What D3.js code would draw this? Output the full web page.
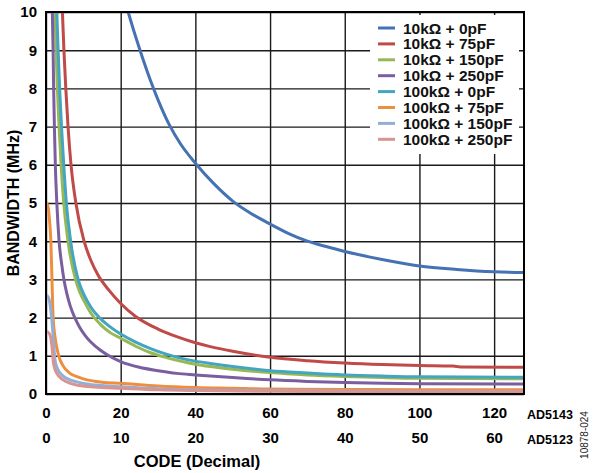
<!DOCTYPE html>
<html>
<head>
<meta charset="utf-8">
<script src="https://cdn.jsdelivr.net/npm/d3@7"></script>
<style>
  html, body { margin: 0; padding: 0; background: #fff; }
  svg { display: block; }
  text { font-family: Arial, "Liberation Sans", sans-serif; }
</style>
</head>
<body>
<svg id="chart" width="597" height="473"></svg>
<script>
// ---- data (code, bandwidth MHz) ----
const seriesNames = ["10k\u03A9 + 0pF", "10k\u03A9 + 75pF", "10k\u03A9 + 150pF", "10k\u03A9 + 250pF",
                     "100k\u03A9 + 0pF", "100k\u03A9 + 75pF", "100k\u03A9 + 150pF", "100k\u03A9 + 250pF"];
const seriesColors = ["#4472b3", "#bf4a47", "#97b853", "#7a5e9f", "#43a5bf", "#ef8f3d", "#92afd7", "#d99492"];

const bw10k0pF = [[20,10.7],[22,10],[25,9.05],[28,8.2],[30,7.7],[33,7.05],[36,6.55],[40,6.04],[45,5.5],[50,5.05],[55,4.72],[60,4.45],[65,4.2],[70,4.0],[75,3.86],[80,3.73],[90,3.52],[100,3.35],[110,3.26],[120,3.2],[128,3.18]];
const bw10k75pF = [[4.1,10.8],[4.4,10],[4.8,9],[5.3,8],[5.9,7],[6.7,6],[8.0,5],[10.2,4],[12,3.5],[14,3.1],[17,2.7],[20,2.37],[24,2.03],[30,1.7],[35,1.5],[40,1.34],[44,1.24],[50,1.12],[60,0.96],[70,0.87],[80,0.81],[90,0.77],[100,0.745],[109,0.73],[111,0.71],[128,0.7]];
const bw10k150pF = [[2.2,10.8],[2.4,10],[2.7,9],[3.05,8],[3.5,7],[4.05,6],[4.75,5],[5.9,4],[7.9,3],[9,2.68],[10.5,2.38],[12,2.12],[14.5,1.83],[17,1.62],[20,1.46],[24,1.25],[28,1.08],[32,0.96],[36,0.86],[40,0.78],[44,0.72],[50,0.65],[60,0.56],[70,0.5],[80,0.46],[90,0.43],[100,0.41],[128,0.4]];
const bw10k250pF = [[1.6,10.8],[1.7,10],[1.9,9],[2.05,8],[2.25,7],[2.5,6],[2.9,5],[3.2,4.45],[3.5,4],[4.2,3.4],[4.8,3.0],[5.6,2.62],[6.5,2.3],[7.8,1.98],[9,1.75],[10.5,1.53],[12,1.36],[14.5,1.15],[16.5,1.02],[20,0.85],[25,0.7],[30,0.61],[35,0.54],[40,0.5],[44,0.47],[50,0.43],[60,0.37],[70,0.33],[80,0.3],[90,0.28],[100,0.27],[128,0.26]];
const bw100k0pF = [[2.7,10.8],[2.9,10],[3.25,9],[3.65,8],[4.15,7],[4.75,6],[5.45,5],[6.6,4],[8.6,3],[9.7,2.7],[11,2.44],[12.5,2.2],[14.5,1.98],[17,1.77],[20,1.57],[24,1.36],[28,1.19],[32,1.05],[36,0.94],[40,0.86],[44,0.8],[50,0.72],[60,0.61],[70,0.55],[80,0.5],[90,0.47],[100,0.45],[128,0.44]];
const bw100k75pF = [[0,5.0],[0.4,4.95],[0.9,4.6],[1.3,4.0],[1.6,3.0],[1.9,2.0],[2.4,1.5],[3.4,1.0],[4.5,0.75],[6.4,0.54],[8.5,0.45],[11,0.37],[15,0.31],[20,0.28],[30,0.21],[40,0.17],[50,0.15],[60,0.13],[80,0.12],[100,0.11],[128,0.11]];
const bw100k150pF = [[0,2.6],[0.5,2.55],[0.9,2.45],[1.5,2.0],[2.0,1.4],[2.4,0.9],[3,0.68],[3.7,0.56],[5,0.44],[6.4,0.37],[8.5,0.31],[10.9,0.26],[15,0.22],[20,0.19],[30,0.14],[40,0.11],[60,0.09],[80,0.08],[100,0.07],[128,0.07]];
const bw100k250pF = [[0,1.63],[0.5,1.62],[1.1,1.54],[1.7,1.15],[2.0,0.8],[2.9,0.54],[4.6,0.37],[6.5,0.28],[9,0.22],[13,0.18],[20,0.15],[30,0.11],[40,0.09],[60,0.07],[80,0.06],[100,0.06],[128,0.06]];
const seriesData = [bw10k0pF, bw10k75pF, bw10k150pF, bw10k250pF, bw100k0pF, bw100k75pF, bw100k150pF, bw100k250pF];

const xTicksAD5143 = [0, 20, 40, 60, 80, 100, 120];
const xTicksAD5123 = [0, 10, 20, 30, 40, 50, 60];
const yTicks = [0, 1, 2, 3, 4, 5, 6, 7, 8, 9, 10];
const xTitle = "CODE (Decimal)";
const yTitle = "BANDWIDTH (MHz)";
const partLabels = ["AD5143", "AD5123"];
const figId = "10878-024";

// ---- layout ----
const L = 46, R = 524, T = 12, B = 394;
const svg = d3.select("#chart");
const x = d3.scaleLinear().domain([0, 128]).range([L, R]);
const x2 = d3.scaleLinear().domain([0, 64]).range([L, R]);
const y = d3.scaleLinear().domain([0, 10]).range([B, T]);
const FONT = "Arial, 'Liberation Sans', sans-serif";

// gridlines
svg.append("g").attr("transform", `translate(0,${B})`)
  .call(d3.axisBottom(x).tickValues(xTicksAD5143).tickSize(-(B - T)).tickFormat(""))
  .call(g => g.select(".domain").remove())
  .call(g => g.selectAll("line").attr("stroke", "#1a1a1a").attr("stroke-width", 1.4));
svg.append("g").attr("transform", `translate(${L},0)`)
  .call(d3.axisLeft(y).tickValues(yTicks).tickSize(-(R - L)).tickFormat(""))
  .call(g => g.select(".domain").remove())
  .call(g => g.selectAll("line").attr("stroke", "#1a1a1a").attr("stroke-width", 1.4));

// legend background box (hides grid)
svg.append("rect").attr("x", 370).attr("y", 15).attr("width", 149).attr("height", 139).attr("fill", "#fff");

// curves
svg.append("clipPath").attr("id", "plotclip")
  .append("rect").attr("x", L).attr("y", T).attr("width", R - L).attr("height", B - T);
const line = d3.line().x(d => x(d[0])).y(d => y(d[1])).curve(d3.curveMonotoneX);
const gCurves = svg.append("g").attr("clip-path", "url(#plotclip)");
seriesData.forEach((d, i) => {
  gCurves.append("path").attr("d", line(d)).attr("fill", "none")
    .attr("stroke", seriesColors[i]).attr("stroke-width", 3)
    .attr("stroke-linejoin", "round").attr("stroke-linecap", "butt");
});

// frame
svg.append("rect").attr("x", L).attr("y", T).attr("width", R - L).attr("height", B - T)
  .attr("fill", "none").attr("stroke", "#000").attr("stroke-width", 2);

// y tick labels
svg.append("g").attr("transform", `translate(${L},0)`)
  .call(d3.axisLeft(y).tickValues(yTicks).tickSize(0).tickPadding(9))
  .call(g => g.select(".domain").remove())
  .call(g => g.selectAll("text").attr("font-size", 15).attr("font-weight", "bold")
    .attr("fill", "#000").attr("font-family", FONT));

// x tick labels (two rows)
svg.append("g").attr("transform", `translate(0,${B})`)
  .call(d3.axisBottom(x).tickValues(xTicksAD5143).tickSize(0).tickPadding(13))
  .call(g => g.select(".domain").remove())
  .call(g => g.selectAll("text").attr("font-size", 15).attr("font-weight", "bold")
    .attr("fill", "#000").attr("font-family", FONT));
svg.append("g").attr("transform", `translate(0,${B + 25})`)
  .call(d3.axisBottom(x2).tickValues(xTicksAD5123).tickSize(0).tickPadding(13))
  .call(g => g.select(".domain").remove())
  .call(g => g.selectAll("text").attr("font-size", 15).attr("font-weight", "bold")
    .attr("fill", "#000").attr("font-family", FONT));

// part labels
partLabels.forEach((t, i) => {
  svg.append("text").attr("x", 527).attr("y", 419 + i * 25).text(t)
    .attr("font-size", 12.5).attr("font-weight", "bold").attr("fill", "#000");
});

// axis titles
svg.append("text").attr("x", 197).attr("y", 467).attr("text-anchor", "middle")
  .attr("font-size", 16.5).attr("font-weight", "bold").text(xTitle);
svg.append("text").attr("transform", `translate(19,${(T + B) / 2}) rotate(-90)`)
  .attr("text-anchor", "middle").attr("font-size", 16).attr("font-weight", "bold").text(yTitle);

// figure id
svg.append("text").attr("transform", "translate(588,435) rotate(-90)")
  .attr("text-anchor", "middle").attr("font-size", 10).attr("fill", "#222").text(figId);

// legend
const gLeg = svg.append("g");
seriesNames.forEach((n, i) => {
  const yy = 28 + i * 15.9;
  gLeg.append("line").attr("x1", 378).attr("x2", 395).attr("y1", yy).attr("y2", yy)
    .attr("stroke", seriesColors[i]).attr("stroke-width", 3);
  gLeg.append("text").attr("x", 403).attr("y", yy).attr("dy", "0.36em")
    .attr("font-size", 15.5).attr("font-weight", "bold").attr("fill", "#111").text(n);
});
</script>
</body>
</html>
